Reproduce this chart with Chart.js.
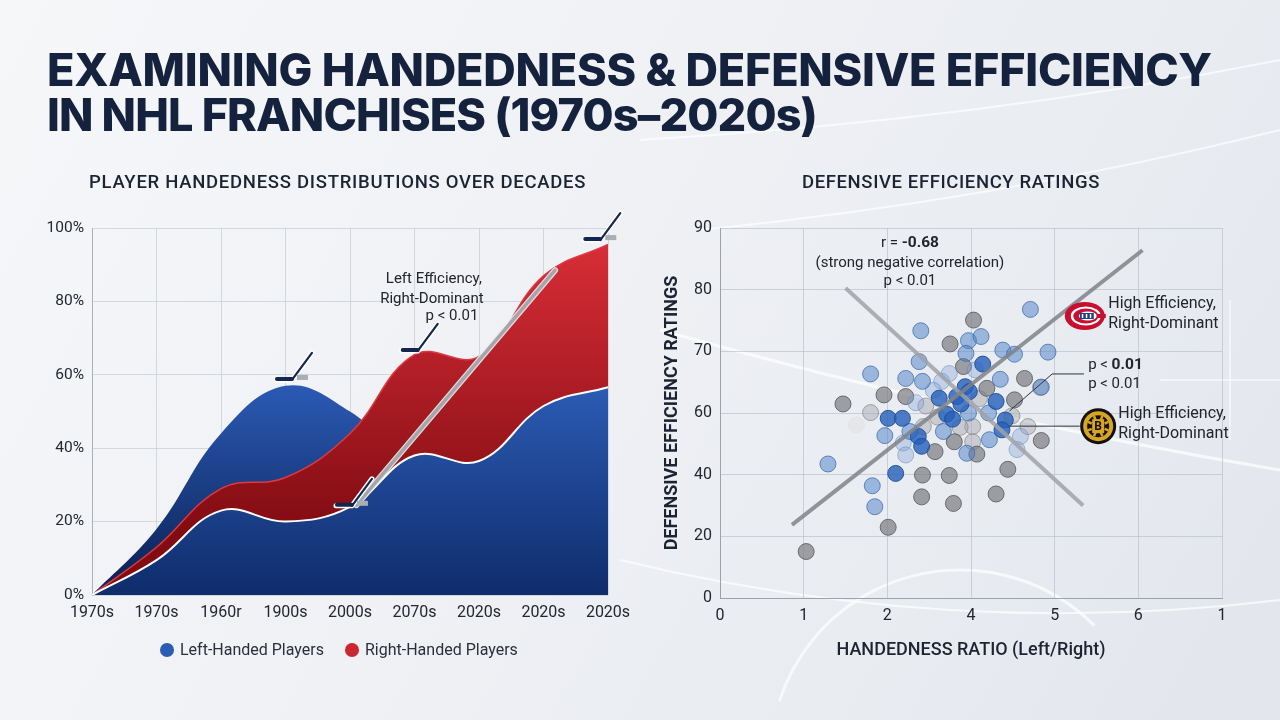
<!DOCTYPE html>
<html>
<head>
<meta charset="utf-8">
<script src="https://cdn.jsdelivr.net/npm/chart.js"></script>
<style>
  html, body { margin: 0; padding: 0; }
  body { width: 1280px; height: 720px; position: relative; overflow: hidden; background: #eef1f5; font-family: Roboto, "Open Sans", sans-serif; }
  #bg { position: absolute; left: 0; top: 0; }
  .title { position: absolute; left: 47px; margin: 0; font-family: Inter, sans-serif; font-weight: 800; font-size: 45px; line-height: 45px; color: #14223d; white-space: nowrap; }
  .sub { position: absolute; top: 171px; font-size: 18.5px; font-weight: 500; color: #1c2333; white-space: nowrap; }
  .legend { position: absolute; top: 640px; font-size: 16px; color: #2a2f3a; white-space: nowrap; }
  .legend span.dot { display: inline-block; width: 14px; height: 14px; border-radius: 50%; vertical-align: -2px; margin-right: 6px; }
  .box { position: absolute; }
</style>
</head>
<body>
<canvas id="bg" width="1280" height="720"></canvas>
<div class="title" id="t1" style="top:47px">EXAMINING HANDEDNESS &amp; DEFENSIVE EFFICIENCY</div>
<div class="title" id="t2" style="top:92px">IN NHL FRANCHISES (1970s–2020s)</div>
<div class="sub" id="s1" style="left:89px">PLAYER HANDEDNESS DISTRIBUTIONS OVER DECADES</div>
<div class="sub" id="s2" style="left:802px">DEFENSIVE EFFICIENCY RATINGS</div>
<div class="legend" style="left:160px"><span class="dot" style="background:#2a5cb4"></span>Left-Handed Players</div>
<div class="legend" style="left:345px"><span class="dot" style="background:#cc2730"></span>Right-Handed Players</div>
<div class="box" style="left:0;top:200px;width:640px;height:440px"><canvas id="left"></canvas></div>
<div class="box" style="left:660px;top:200px;width:600px;height:480px"><canvas id="right"></canvas></div>

<script>
// ---- left chart data (percent of players) ----
const decades = ["1970s", "1970s", "1960r", "1900s", "2000s", "2070s", "2020s", "2020s", "2020s"];
const leftBack = [0, 18, 44, 57, 50, 35, 30, 30, 30];
const rightHanded = [0, 13, 29, 32, 44, 65.5, 65, 87, 95.5];
const leftHanded = [0, 9.5, 23, 20, 24, 38, 36.5, 51.5, 56.6];
const pctTicks = [0, 20, 40, 60, 80, 100];

// ---- right chart data ----
const ratioTickLabels = ["0", "1", "2", "4", "5", "6", "1"];
const ratingTickLabels = ["0", "20", "40", "60", "70", "80", "90"];
const blueStrong = [[2.01,43.7],[2.18,43.7],[2.10,30.3],[2.37,39.3],[2.41,36.9],[2.62,48.6],[2.71,44.7],[2.83,49.0],[2.93,51.4],[3.30,47.8],[3.41,43.3],[3.37,40.9],[3.14,56.9],[2.88,47.2],[2.78,43.5],[2.98,50.2]];
const blueMid = [[1.80,54.5],[2.40,65.0],[2.38,57.5],[2.22,53.4],[2.42,52.7],[1.97,39.5],[2.27,40.5],[2.67,40.5],[1.29,32.6],[1.82,27.3],[1.85,22.2],[3.71,70.2],[2.97,62.6],[3.12,63.6],[2.94,59.5],[3.38,60.3],[3.52,59.3],[3.92,59.8],[3.35,53.2],[2.97,45.0],[3.21,45.0],[3.22,38.5],[2.95,35.2],[3.84,51.3]];
const blueLight = [[2.65,52.7],[2.74,54.6],[2.34,47.5],[2.19,37.7],[2.22,34.8],[3.59,39.3],[3.55,36.1],[3.05,55.5],[2.55,50.5]];
const grayDark = [[1.03,11.3],[2.01,17.2],[1.47,47.2],[1.96,49.4],[2.22,49.0],[2.75,61.8],[3.03,67.6],[2.91,56.3],[3.19,51.0],[3.64,53.4],[3.52,48.2],[3.84,38.3],[2.57,35.6],[2.42,29.9],[2.74,29.8],[2.41,24.6],[2.79,23.0],[3.44,31.3],[3.30,25.3],[3.07,35.0],[2.80,38.0]];
const grayLight = [[1.80,45.1],[2.46,46.7],[2.43,41.7],[3.83,51.2],[3.49,44.3],[3.68,41.7],[3.02,41.7],[2.87,41.5],[3.02,38.0],[3.10,48.5],[2.60,44.0]];
const grayFaded = [[1.63,42.1]];
const trendUp = [[0.86,17.8],[5.05,84.6]];
const trendDown = [[1.50,75.4],[4.34,22.5]];

const toPts = arr => arr.map(p => ({ x: p[0], y: p[1] }));

// ---- background ----
(function drawBg() {
  const c = document.getElementById("bg").getContext("2d");
  const g = c.createLinearGradient(0, 0, 1280, 720);
  g.addColorStop(0, "#f6f7f9");
  g.addColorStop(0.5, "#eef0f4");
  g.addColorStop(1, "#e2e6ec");
  c.fillStyle = g;
  c.fillRect(0, 0, 1280, 720);
  c.strokeStyle = "rgba(255,255,255,0.7)";
  c.lineWidth = 2;
  c.beginPath(); c.moveTo(640, 140); c.quadraticCurveTo(980, 120, 1280, 60); c.stroke();
  c.beginPath(); c.moveTo(700, 230); c.quadraticCurveTo(1000, 200, 1280, 130); c.stroke();
  c.lineWidth = 3;
  c.beginPath(); c.moveTo(660, 330); c.quadraticCurveTo(980, 420, 1280, 470); c.stroke();
  c.beginPath(); c.arc(960, 760, 190, Math.PI * 1.1, Math.PI * 1.75); c.stroke();
  c.lineWidth = 2;
  c.beginPath(); c.moveTo(620, 560); c.quadraticCurveTo(950, 640, 1280, 600); c.stroke();
  c.strokeStyle = "rgba(255,255,255,0.5)";
  c.beginPath(); c.moveTo(1160, 380); c.lineTo(1280, 380); c.stroke();
  c.beginPath(); c.moveTo(1230, 300); c.lineTo(1230, 440); c.stroke();
})();

function fitText(id, target) {
  const el = document.getElementById(id);
  const w = el.getBoundingClientRect().width;
  const n = el.textContent.length;
  el.style.letterSpacing = ((target - w) / n).toFixed(2) + "px";
}
fitText("t1", 1165);
fitText("t2", 770);
fitText("s1", 497);
fitText("s2", 298);

// vertical gradient between two data values of the y scale
function grad(ctx, topVal, top, bottomVal, bottom) {
  const { chart } = ctx;
  const ys = chart.scales.y;
  if (!chart.chartArea || !ys) return top;
  const g = chart.ctx.createLinearGradient(0, ys.getPixelForValue(topVal), 0, ys.getPixelForValue(bottomVal));
  g.addColorStop(0, top);
  g.addColorStop(1, bottom);
  return g;
}

function drawStick(c, x, y, tape) {
  c.save();
  c.lineCap = "round";
  c.strokeStyle = "#ffffff";
  c.lineWidth = 5;
  c.beginPath(); c.moveTo(x - 16, y); c.lineTo(x, y); c.lineTo(x + 20, y - 27); c.stroke();
  c.strokeStyle = "#14264f";
  c.lineWidth = 2.2;
  c.beginPath(); c.moveTo(x, y); c.lineTo(x + 20, y - 27); c.stroke();
  c.lineWidth = 4;
  c.beginPath(); c.moveTo(x - 15, y - 1); c.lineTo(x, y - 1); c.stroke();
  if (tape) {
    c.fillStyle = "#a9adb4";
    c.fillRect(x + 5, y - 5, 11, 5);
  }
  c.restore();
}

const leftDecor = {
  id: "leftDecor",
  afterDatasetsDraw(chart) {
    const c = chart.ctx, xs = chart.scales.x, ys = chart.scales.y;
    const px = v => xs.getPixelForValue(v), py = v => ys.getPixelForValue(v);
    // gray pointer line
    c.save();
    c.lineCap = "round";
    c.strokeStyle = "rgba(235,235,238,0.9)";
    c.lineWidth = 6;
    c.beginPath(); c.moveTo(px(4.1), py(24.5)); c.lineTo(px(7.18), py(88.5)); c.stroke();
    c.strokeStyle = "rgba(160,162,168,0.95)";
    c.lineWidth = 3.5;
    c.beginPath(); c.moveTo(px(4.1), py(24.5)); c.lineTo(px(7.18), py(88.5)); c.stroke();
    c.restore();
    drawStick(c, px(3.1), py(58.6), true);
    drawStick(c, px(5.05), py(66.5), false);
    drawStick(c, px(7.88), py(96.7), true);
    drawStick(c, px(4.03), py(24.3), true);
    c.save();
    c.fillStyle = "#22252c";
    c.font = "15px Roboto, sans-serif";
    c.textAlign = "center";
    c.textBaseline = "middle";
    c.fillText("Left Efficiency,", px(5.3), py(86));
    c.fillText("Right-Dominant", px(5.27), py(80.5));
    c.textAlign = "right";
    c.fillText("p < 0.01", px(5.99), py(76));
    c.restore();
  }
};

new Chart(document.getElementById("left"), {
  type: "line",
  data: {
    labels: decades,
    datasets: [
      { label: "Left-Handed Players", data: leftHanded, order: 1, fill: "origin", tension: 0.4, pointRadius: 0, borderColor: "#ffffff", borderWidth: 2,
        backgroundColor: ctx => grad(ctx, 58, "#2c5cb5", 0, "#0f2c6b") },
      { label: "Right-Handed Players", data: rightHanded, order: 2, fill: "origin", tension: 0.4, pointRadius: 0, borderColor: "#dc3a42", borderWidth: 1.5,
        backgroundColor: ctx => grad(ctx, 95, "#d72d37", 18, "#820c12") },
      { label: "left-back", data: leftBack, order: 3, fill: "origin", tension: 0.4, pointRadius: 0, borderWidth: 0, borderColor: "rgba(0,0,0,0)",
        backgroundColor: ctx => grad(ctx, 57, "#2b5ab4", 5, "#0c2459") }
    ]
  },
  options: {
    responsive: true, maintainAspectRatio: false, animation: false,
    layout: { padding: { top: 28, right: 32, left: 0, bottom: 0 } },
    plugins: { legend: { display: false }, tooltip: { enabled: false } },
    scales: {
      x: {
        grid: { color: "rgba(190,196,206,0.6)", drawTicks: false },
        border: { display: false },
        ticks: { color: "#23272f", font: { size: 16, family: "Roboto" }, padding: 8, maxRotation: 0, autoSkip: false },
        afterFit: s => { s.height = 45; }
      },
      y: {
        min: 0, max: 100,
        grid: { color: "rgba(190,196,206,0.6)", drawTicks: false },
        border: { color: "rgba(160,166,176,0.8)" },
        afterBuildTicks: s => { s.ticks = pctTicks.map(v => ({ value: v })); },
        ticks: { color: "#23272f", font: { size: 15.5, family: "Roboto" }, padding: 8, callback: v => v + "%" },
        afterFit: s => { s.width = 92; }
      }
    }
  },
  plugins: [leftDecor]
});

function drawHabs(c, x, y) {
  c.save();
  c.fillStyle = "#c8102e";
  c.beginPath(); c.ellipse(x, y, 20, 14, 0, 0, Math.PI * 2); c.fill();
  c.fillStyle = "#ffffff";
  c.beginPath(); c.ellipse(x + 1, y, 15, 9.5, 0, 0, Math.PI * 2); c.fill();
  c.fillStyle = "#c8102e";
  c.beginPath(); c.ellipse(x + 1, y, 12.5, 7.5, 0, 0, Math.PI * 2); c.fill();
  c.fillStyle = "#ffffff";
  c.beginPath(); c.ellipse(x + 3, y, 9, 4.5, 0, 0, Math.PI * 2); c.fill();
  c.fillStyle = "#1d3f8f";
  c.fillRect(x - 5, y - 3, 14, 6);
  c.fillStyle = "#ffffff";
  c.fillRect(x - 3, y - 2, 1.5, 4); c.fillRect(x + 1, y - 2, 1.5, 4); c.fillRect(x + 5, y - 2, 1.5, 4);
  c.fillStyle = "#c8102e";
  c.fillRect(x + 12, y - 2, 9, 4);
  c.restore();
}

function drawBruins(c, x, y) {
  c.save();
  c.fillStyle = "#111111";
  c.beginPath(); c.arc(x, y, 18, 0, Math.PI * 2); c.fill();
  c.fillStyle = "#d9a520";
  c.beginPath(); c.arc(x, y, 15, 0, Math.PI * 2); c.fill();
  c.fillStyle = "#111111";
  c.beginPath(); c.arc(x, y, 11, 0, Math.PI * 2); c.fill();
  c.strokeStyle = "#d9a520";
  c.lineWidth = 2.5;
  for (let i = 0; i < 8; i++) {
    const a = i * Math.PI / 4 + Math.PI / 8;
    c.beginPath(); c.moveTo(x + Math.cos(a) * 7, y + Math.sin(a) * 7); c.lineTo(x + Math.cos(a) * 11, y + Math.sin(a) * 11); c.stroke();
  }
  c.fillStyle = "#d9a520";
  c.fillRect(x - 6, y - 7, 12, 14);
  c.fillStyle = "#111111";
  c.font = "bold 12px Roboto, sans-serif";
  c.textAlign = "center"; c.textBaseline = "middle";
  c.fillText("B", x, y + 1);
  c.restore();
}

function richText(c, parts, x, y, align) {
  const widths = parts.map(p => { c.font = p[1]; return c.measureText(p[0]).width; });
  const total = widths.reduce((a, b) => a + b, 0);
  let sx = align === "center" ? x - total / 2 : x;
  c.textAlign = "left";
  parts.forEach((p, i) => { c.font = p[1]; c.fillText(p[0], sx, y); sx += widths[i]; });
}

const rightDecor = {
  id: "rightDecor",
  afterDatasetsDraw(chart) {
    const c = chart.ctx, xs = chart.scales.x, ys = chart.scales.y;
    const px = v => xs.getPixelForValue(v), py = v => ys.getPixelForValue(v);
    const reg = "15px Roboto, sans-serif", bold = "bold 15.5px Roboto, sans-serif", big = "16px Roboto, sans-serif";
    c.save();
    c.fillStyle = "#22252c";
    c.textBaseline = "middle";
    richText(c, [["r = ", reg], ["-0.68", bold]], px(2.27), py(86.4), "center");
    richText(c, [["(strong negative correlation)", reg]], px(2.27), py(81.5), "center");
    richText(c, [["p < 0.01", reg]], px(2.27), py(77.1), "center");
    richText(c, [["High Efficiency,", big]], px(4.64), py(71.5), "left");
    richText(c, [["Right-Dominant", big]], px(4.64), py(66.6), "left");
    richText(c, [["p < ", reg], ["0.01", bold]], px(4.40), py(56.7), "left");
    richText(c, [["p < 0.01", reg]], px(4.40), py(52.1), "left");
    richText(c, [["High Efficiency,", big]], px(4.76), py(44.8), "left");
    richText(c, [["Right-Dominant", big]], px(4.76), py(39.9), "left");
    c.strokeStyle = "#2d3340";
    c.lineWidth = 1;
    c.beginPath(); c.moveTo(px(4.35), py(54.5)); c.lineTo(px(3.97), py(54.5)); c.lineTo(px(3.46), py(45.5)); c.stroke();
    c.beginPath(); c.moveTo(px(4.30), py(41.8)); c.lineTo(px(3.46), py(41.8)); c.stroke();
    c.restore();
    drawHabs(c, px(4.36), py(68.6));
    drawBruins(c, px(4.52), py(41.8));
  }
};

const dotSet = (label, arr, bg, bd, order) => ({ label, data: toPts(arr), backgroundColor: bg, borderColor: bd, borderWidth: 1, pointRadius: 8, order });
const lineSet = (label, arr, color) => ({ label, type: "line", data: toPts(arr), showLine: true, pointRadius: 0, borderColor: color, borderWidth: 4, order: 0 });

new Chart(document.getElementById("right"), {
  type: "scatter",
  data: {
    datasets: [
      lineSet("trend up", trendUp, "rgba(128,130,136,0.85)"),
      lineSet("trend down", trendDown, "rgba(160,162,168,0.85)"),
      dotSet("blue strong", blueStrong, "rgba(35,95,185,0.8)", "rgba(30,75,150,0.9)", 1),
      dotSet("blue mid", blueMid, "rgba(75,128,200,0.5)", "rgba(50,100,170,0.7)", 2),
      dotSet("blue light", blueLight, "rgba(125,160,215,0.35)", "rgba(90,130,190,0.5)", 3),
      dotSet("gray dark", grayDark, "rgba(115,115,120,0.65)", "rgba(85,85,90,0.8)", 4),
      dotSet("gray light", grayLight, "rgba(165,165,170,0.45)", "rgba(120,120,125,0.6)", 5),
      dotSet("gray faded", grayFaded, "rgba(228,228,230,0.85)", "rgba(228,228,230,0.85)", 6)
    ]
  },
  options: {
    responsive: true, maintainAspectRatio: false, animation: false,
    layout: { padding: { top: 28, right: 38, left: 0, bottom: 0 } },
    plugins: { legend: { display: false }, tooltip: { enabled: false } },
    scales: {
      x: {
        type: "linear", min: 0, max: 6,
        grid: { color: "rgba(180,186,196,0.6)", drawTicks: false },
        border: { color: "rgba(150,156,166,0.9)" },
        ticks: { stepSize: 1, color: "#23272f", font: { size: 16, family: "Roboto" }, padding: 8, callback: (v, i) => ratioTickLabels[i] },
        title: { display: true, text: "HANDEDNESS RATIO (Left/Right)", color: "#1c2333", font: { size: 18, weight: "500", family: "Roboto" }, padding: { bottom: 19 } },
        afterFit: s => { s.height = 82; }
      },
      y: {
        min: 0, max: 90,
        grid: { color: "rgba(180,186,196,0.6)", drawTicks: false },
        border: { color: "rgba(150,156,166,0.9)" },
        ticks: { stepSize: 15, color: "#23272f", font: { size: 16, family: "Roboto" }, padding: 8, callback: (v, i) => ratingTickLabels[i] },
        title: { display: true, text: "DEFENSIVE EFFICIENCY RATINGS", color: "#1c2333", font: { size: 18, weight: "bold", family: "Roboto" }, padding: { top: 2 } },
        afterFit: s => { s.width = 60; }
      }
    }
  },
  plugins: [rightDecor]
});
</script>
</body>
</html>
